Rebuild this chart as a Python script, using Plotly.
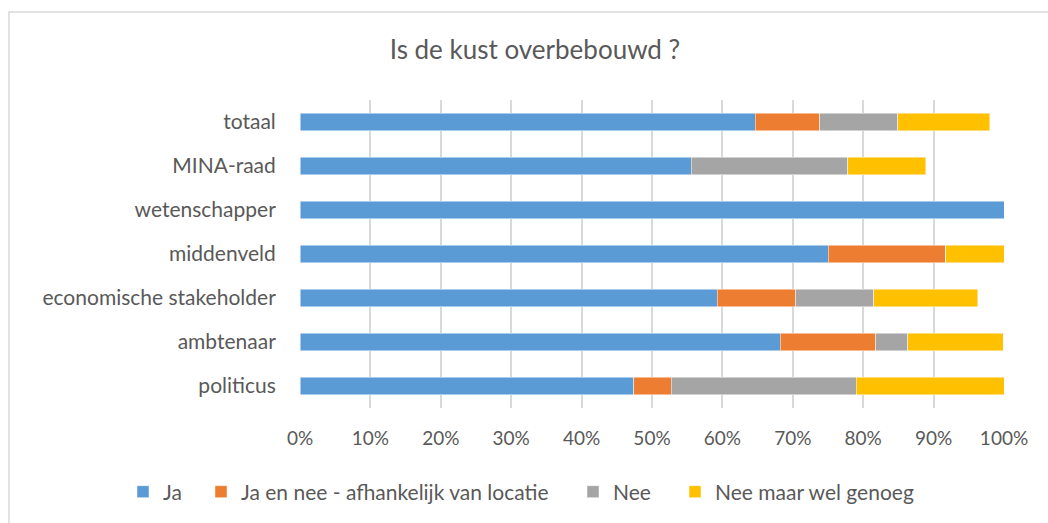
import plotly.graph_objects as go

categories = ["totaal", "MINA-raad", "wetenschapper", "middenveld",
              "economische stakeholder", "ambtenaar", "politicus"]
ja = [64.7, 55.6, 100.0, 75.0, 59.3, 68.2, 47.4]
ja_en_nee = [9.1, 0.0, 0.0, 16.7, 11.1, 13.6, 5.3]
nee = [11.1, 22.2, 0.0, 0.0, 11.1, 4.5, 26.3]
nee_maar = [13.1, 11.1, 0.0, 8.3, 14.8, 13.6, 21.1]
series_names = ["Ja", "Ja en nee - afhankelijk van locatie", "Nee", "Nee maar wel genoeg"]
series_colors = ["#5B9BD5", "#ED7D31", "#A5A5A5", "#FFC000"]
x_tick_values = [0, 10, 20, 30, 40, 50, 60, 70, 80, 90, 100]
x_tick_labels = ["0%", "10%", "20%", "30%", "40%", "50%", "60%", "70%", "80%", "90%", "100%"]

W, H = 1048, 523
L, R, T, B = 300, 44, 100, 115
FONT = "Lato"
TXT = "#595959"

fig = go.Figure()
legend_ids = ["legend", "legend2", "legend3", "legend4"]
for name, vals, col, lg in zip(series_names, [ja, ja_en_nee, nee, nee_maar], series_colors, legend_ids):
    fig.add_trace(go.Bar(
        y=categories, x=vals, name=name, orientation="h",
        marker=dict(color=col, line=dict(color="rgba(255,255,255,0.6)", width=0.8)),
        legend=lg, showlegend=True,
    ))

pw = W - L - R
ph = H - T - B
def px2paper_x(px):
    return (px - L) / pw
def px2paper_y(py):
    return (H - B - py) / ph

legend_left_px = [123, 201, 573, 675]
legend_common = dict(orientation="h", xref="container", yref="container",
                     xanchor="left", yanchor="middle", y=(H - 492) / H,
                     font=dict(family=FONT, size=21, color=TXT),
                     bgcolor="rgba(0,0,0,0)", itemclick=False, visible=True)
layout_legends = {}
for lg, lpx in zip(legend_ids, legend_left_px):
    layout_legends[lg] = dict(legend_common, x=lpx / W)

fig.update_layout(
    width=W, height=H,
    margin=dict(l=L, r=R, t=T, b=B),
    barmode="stack", bargap=0.6,
    showlegend=True,
    plot_bgcolor="white", paper_bgcolor="white",
    title=dict(text="Is de kust overbebouwd ?", x=535 / W, xanchor="center",
               y=(H - 50) / H, yanchor="middle", xref="container", yref="container",
               font=dict(family=FONT, size=26, color=TXT)),
    font=dict(family=FONT, color=TXT),
    xaxis=dict(range=[0, 100], tickmode="array", tickvals=x_tick_values, ticktext=x_tick_labels,
               showgrid=True, gridcolor="#D9D9D9", gridwidth=1.5,
               zeroline=False, showline=False,
               ticks="outside", ticklen=13, tickcolor="rgba(0,0,0,0)",
               tickfont=dict(family=FONT, size=19, color=TXT), fixedrange=True),
    yaxis=dict(categoryorder="array", categoryarray=categories, autorange="reversed",
               showgrid=False, showline=False, zeroline=False,
               ticks="outside", ticklen=19, tickcolor="rgba(0,0,0,0)",
               tickfont=dict(family=FONT, size=21, color=TXT), fixedrange=True),
    shapes=[dict(type="rect", xref="paper", yref="paper",
                 x0=px2paper_x(9), x1=px2paper_x(1100),
                 y0=px2paper_y(560), y1=px2paper_y(12),
                 line=dict(color="#D9D9D9", width=1.5), fillcolor="rgba(0,0,0,0)",
                 layer="below")],
    **layout_legends,
)

fig.write_html("out.html", config={"displayModeBar": False},
               post_script="document.body.style.margin='0';document.body.style.overflow='hidden';")
